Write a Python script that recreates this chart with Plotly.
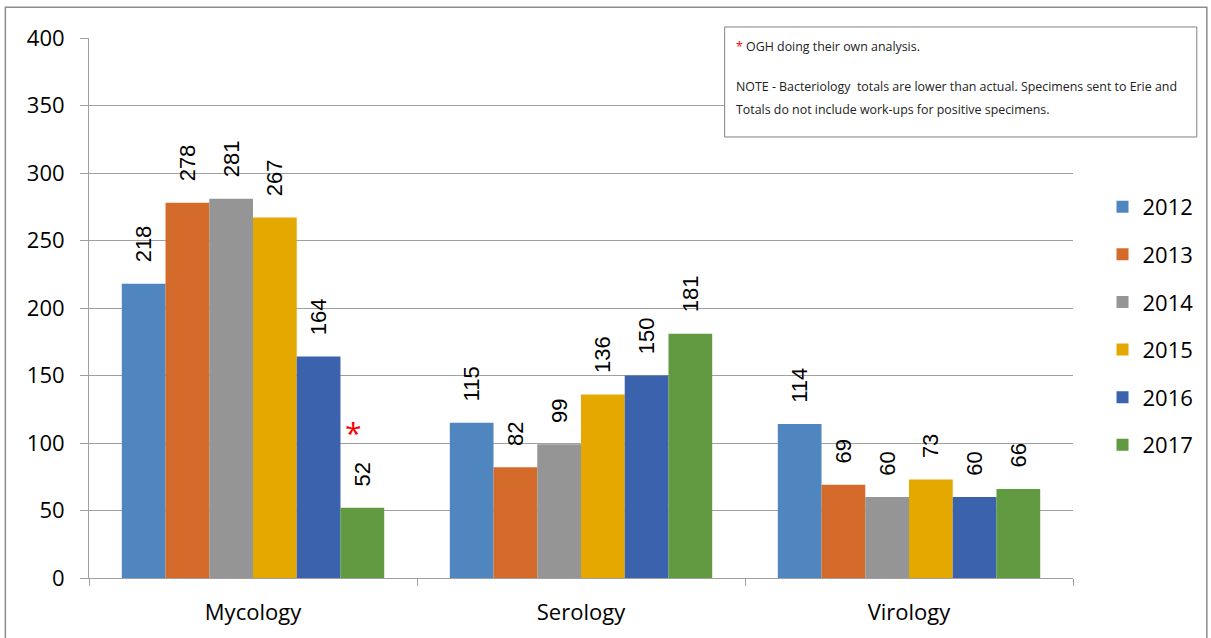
import plotly.graph_objects as go

categories = ["Mycology", "Serology", "Virology"]
years = ["2012", "2013", "2014", "2015", "2016", "2017"]
values = {
    "2012": [218, 115, 114],
    "2013": [278, 82, 69],
    "2014": [281, 99, 60],
    "2015": [267, 136, 73],
    "2016": [164, 150, 60],
    "2017": [52, 181, 66],
}
colors = ["#4F86C0", "#D56B2B", "#959595", "#E5A800", "#3A62AD", "#629A41"]
y_ticks = [0, 50, 100, 150, 200, 250, 300, 350, 400]
note_line1 = "OGH doing their own analysis."
note_line2 = "NOTE - Bacteriology  totals are lower than actual. Specimens sent to Erie and"
note_line3 = "Totals do not include work-ups for positive specimens."

FONT = "Open Sans"
LFONT = "Liberation Sans"
PAD = "\u00a0\u00a0\u00a0"

fig = go.Figure()
for yr, col in zip(years, colors):
    fig.add_trace(go.Bar(
        name=yr, x=categories, y=values[yr], marker_color=col,
        marker_line_width=0, legendgroup=yr,
        text=[PAD + str(v) for v in values[yr]], textposition="outside",
        textangle=-90, textfont=dict(size=22, color="black", family=LFONT),
        cliponaxis=False, constraintext="none",
    ))

fig.update_layout(
    width=1211, height=638,
    margin=dict(l=89, r=136, t=38, b=60),
    paper_bgcolor="white", plot_bgcolor="white",
    barmode="group", bargap=0.2, bargroupgap=0,
    font=dict(family=FONT, size=22, color="black"),
    showlegend=True,
    legend=dict(x=1.03, y=0.726, xanchor="left", yanchor="top",
                font=dict(size=22, family=FONT), tracegroupgap=16,
                itemsizing="constant", bgcolor="rgba(0,0,0,0)"),
    uniformtext=dict(mode=False),
)
fig.update_xaxes(
    showline=True, linecolor="#A0A0A0", linewidth=1,
    ticks="outside", tickson="boundaries", ticklen=7, tickcolor="#A0A0A0",
    tickfont=dict(size=22, family=FONT), showgrid=False, ticklabelstandoff=15,
)
fig.update_yaxes(
    range=[0, 400], tickvals=y_ticks, showline=True, linecolor="#A0A0A0",
    linewidth=1, ticks="outside", ticklen=8, tickcolor="#A0A0A0",
    showgrid=True, gridcolor="#A0A0A0", gridwidth=1,
    tickfont=dict(size=22, family=FONT), zeroline=False, ticklabelstandoff=11,
)

# whole-chart border
fig.add_shape(type="rect", xref="paper", yref="paper",
              x0=-0.085, x1=1.136, y0=-0.12, y1=1.057,
              line=dict(color="#8C8C8C", width=1.5), layer="below")
# note box
fig.add_shape(type="rect", xref="paper", yref="paper",
              x0=0.646, x1=1.1258, y0=0.8167, y1=1.0204,
              line=dict(color="#808080", width=1), fillcolor="white", layer="above")
fig.add_annotation(xref="paper", yref="paper", x=0.6552, y=0.985, xanchor="left", yanchor="middle",
                   text="<span style='color:red'>*</span> " + note_line1, showarrow=False,
                   font=dict(size=12.4, family=FONT, color="#222"))
fig.add_annotation(xref="paper", yref="paper", x=0.6552, y=0.911, xanchor="left", yanchor="middle",
                   text=note_line2, showarrow=False,
                   font=dict(size=12.4, family=FONT, color="#222"))
fig.add_annotation(xref="paper", yref="paper", x=0.6552, y=0.8685, xanchor="left", yanchor="middle",
                   text=note_line3, showarrow=False,
                   font=dict(size=12.4, family=FONT, color="#222"))
# red asterisk over 2017 Mycology
fig.add_annotation(x="Mycology", y=108, xshift=100, text="*", showarrow=False,
                   font=dict(size=30, color="red", family=FONT), yanchor="middle")

fig.write_html("out.html")
